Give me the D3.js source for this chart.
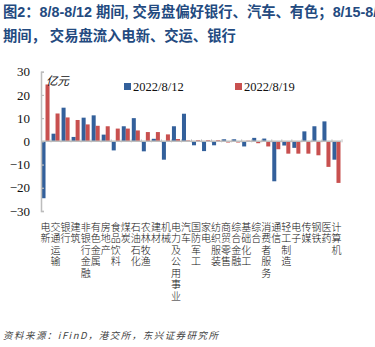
<!DOCTYPE html>
<html><head><meta charset="utf-8">
<script src="https://cdn.jsdelivr.net/npm/d3@7"></script>
<style>
html,body{margin:0;padding:0;background:#fff;}
svg{display:block;}
</style></head>
<body>
<svg id="c" width="375" height="347"></svg>
<script>
const categories = ["电新","交通运输","银行","建筑","非银行金融","有色金属","房地产","食品饮料","煤炭","石油石化","农林牧渔","建材","机械","电力及公用事业","汽车","国防军工","家电","纺织服装","商贸零售","综合金融","基础化工","综合","消费者服务","通信","轻工制造","电子","传媒","钢铁","医药","计算机"];
const seriesNames = ["2022/8/12","2022/8/19"];
const values0812 = [-24.5,3.3,14.5,1.9,10.2,11.2,2.9,-3.9,6.5,10.0,-4.3,1.1,-7.9,6.5,11.9,-1.7,-4.2,-1.7,0.9,0.9,-2.2,1.5,1.2,-17.2,-1.8,-2.8,4.3,6.5,8.6,-7.9];
const values0819 = [24.5,12.0,10.3,9.2,7.3,6.7,6.5,5.5,5.5,4.7,4.0,4.0,3.0,1.0,0.4,0.5,0.5,0.5,-0.5,-0.5,0.3,-0.8,-2.2,-3.4,-5.3,-5.3,-5.3,-6.0,-11.0,-17.9];
const yTicks = [-30,-20,-10,0,10,20,30];
const titleLines = ["图2：8/8-8/12 期间, 交易盘偏好银行、汽车、有色；8/15-8/19","期间， 交易盘流入电新、交运、银行"];
const unitLabel = "亿元";
const sourceText = "资料来源：iFinD，港交所，东兴证券研究所";

const colors = ["#33609b","#c8504f"];
const svg = d3.select("#c");

// title
svg.selectAll("text.title").data(titleLines).join("text")
  .attr("class","title")
  .attr("x",3).attr("y",(d,i)=>17+i*24)
  .attr("font-family","'Liberation Sans','Noto Sans CJK SC',sans-serif")
  .attr("font-weight","bold").attr("font-size",14.3)
  .attr("fill","#234a80").text(d=>d);

const x = d3.scaleBand().domain(categories).range([41,341]).paddingInner(0.14).paddingOuter(0.02);
const xs = d3.scaleBand().domain(seriesNames).range([0,x.bandwidth()]).padding(0);
const y = d3.scaleLinear().domain([-30,30]).range([211,71.7]);

const data = categories.map((c,i)=>({c, v:[values0812[i],values0819[i]]}));

const g = svg.append("g");
g.selectAll("g.grp").data(data).join("g").attr("class","grp")
  .attr("transform",d=>`translate(${x(d.c)},0)`)
  .selectAll("rect").data(d=>d.v.map((v,k)=>({v,k}))).join("rect")
  .attr("x",d=>xs(seriesNames[d.k])+ (d.k===0?0.3:0))
  .attr("width",xs.bandwidth()-0.3)
  .attr("y",d=>y(Math.max(0,d.v)))
  .attr("height",d=>Math.abs(y(d.v)-y(0)))
  .attr("fill",d=>colors[d.k]);

// y axis
const ax = svg.append("g").attr("transform","translate(41,0)")
  .call(d3.axisLeft(y).tickValues(yTicks).tickSize(-3).tickPadding(11).tickFormat(d3.format("d")));
ax.select(".domain").attr("stroke","#bdbdbd").attr("stroke-width",1.5);
ax.selectAll(".tick line").attr("stroke","#bdbdbd").attr("stroke-width",1.2);
ax.selectAll(".tick text").attr("font-family","'Liberation Serif',serif").attr("font-size",13).attr("fill","#111");

// zero line
svg.append("line").attr("x1",41).attr("x2",341).attr("y1",y(0)).attr("y2",y(0))
  .attr("stroke","#bdbdbd").attr("stroke-width",1.5);
svg.selectAll("line.ct").data(categories.slice(1).concat(["_end"])).join("line").attr("class","ct")
  .attr("x1",(d,i)=>41+ (i+1)*x.step()).attr("x2",(d,i)=>41+(i+1)*x.step())
  .attr("y1",y(0)-2).attr("y2",y(0)+1).attr("stroke","#bdbdbd").attr("stroke-width",1);

// unit label
svg.append("text").attr("x",46).attr("y",85).attr("font-family","'Noto Sans CJK SC',sans-serif")
  .attr("font-size",11.5).attr("font-style","italic").attr("fill","#111").text(unitLabel);

// legend
const legX = [124,235];
seriesNames.forEach((s,k)=>{
  svg.append("rect").attr("x",legX[k]).attr("y",83).attr("width",7).attr("height",7).attr("fill",colors[k]);
  svg.append("text").attr("x",legX[k]+9).attr("y",91).attr("font-family","'Liberation Serif',serif")
    .attr("font-size",12.5).attr("fill","#111").text(s);
});

// category labels (vertical stacked)
const cl = svg.append("g");
data.forEach(d=>{
  const cx = x(d.c)+x.bandwidth()/2;
  Array.from(d.c).forEach((ch,j)=>{
    cl.append("text").attr("x",cx).attr("y",226+j*11.5)
      .attr("text-anchor","middle").attr("dominant-baseline","central")
      .attr("font-family","'Noto Sans CJK SC',sans-serif").attr("font-weight",300)
      .attr("font-size",10).attr("fill","#111").text(ch);
  });
});

// source
svg.append("text").attr("x",3).attr("y",339).attr("font-family","'Noto Sans CJK SC',sans-serif")
  .attr("font-size",9.5).attr("font-style","italic").attr("fill","#444")
  .attr("textLength",215).attr("lengthAdjust","spacing").text(sourceText);
</script>
</body></html>
